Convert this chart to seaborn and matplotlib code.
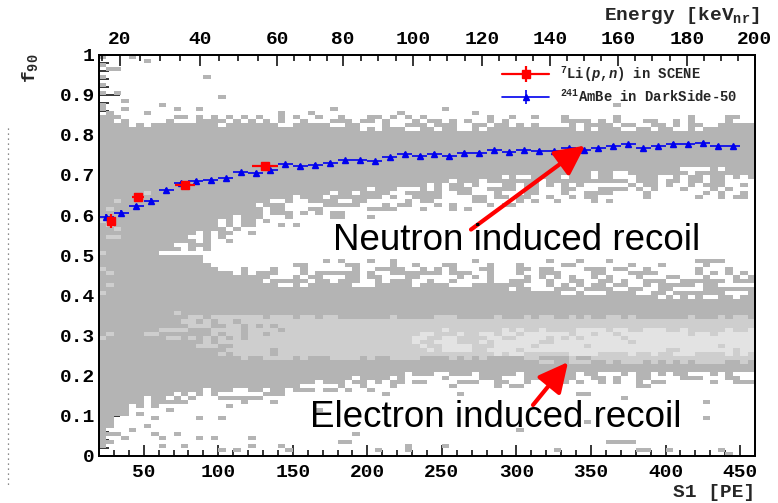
import numpy as np
import pandas as pd
import matplotlib
matplotlib.use("Agg")
import matplotlib.pyplot as plt
import seaborn as sns
from matplotlib.colors import ListedColormap
from matplotlib.lines import Line2D
from matplotlib.legend_handler import HandlerTuple
from matplotlib.ticker import MultipleLocator
from matplotlib.patches import ArrowStyle

# ---------------- data ----------------
ambe_s1 = [25, 35, 45, 55, 65, 75, 85, 95, 105, 115, 125, 135, 145, 155, 165,
           175, 185, 195, 205, 215, 225, 235, 245, 255, 265, 275, 285, 295, 305,
           315, 325, 335, 345, 355, 365, 375, 385, 395, 405, 415, 425, 435, 445]
ambe_f90 = [0.595, 0.605, 0.622, 0.636, 0.663, 0.680, 0.684, 0.688, 0.692, 0.707,
            0.705, 0.713, 0.727, 0.723, 0.726, 0.730, 0.736, 0.736, 0.734, 0.744,
            0.753, 0.748, 0.752, 0.746, 0.755, 0.755, 0.761, 0.756, 0.761, 0.760,
            0.759, 0.766, 0.763, 0.766, 0.773, 0.776, 0.766, 0.771, 0.777, 0.777,
            0.780, 0.773, 0.771]
ambe_yerr = [0.008, 0.007, 0.006, 0.006, 0.005, 0.005, 0.005, 0.004, 0.004, 0.004,
             0.004, 0.004, 0.004, 0.004, 0.004, 0.004, 0.004, 0.004, 0.004, 0.004,
             0.004, 0.004, 0.004, 0.004, 0.004, 0.004, 0.004, 0.004, 0.004, 0.004,
             0.004, 0.004, 0.004, 0.004, 0.004, 0.004, 0.004, 0.004, 0.004, 0.004,
             0.004, 0.004, 0.004]
ambe_xerr = 5.0

scene_s1 = [27.8, 46.2, 77.7, 131.3]
scene_f90 = [0.585, 0.644, 0.674, 0.723]
scene_xerr = [2.0, 4.0, 7.0, 9.0]
scene_yerr = [0.017, 0.012, 0.011, 0.010]

s1_ticks = [50, 100, 150, 200, 250, 300, 350, 400, 450]
f90_ticks = [0, 0.1, 0.2, 0.3, 0.4, 0.5, 0.6, 0.7, 0.8, 0.9, 1.0]
f90_tick_labels = ["0", "0.1", "0.2", "0.3", "0.4", "0.5", "0.6", "0.7", "0.8", "0.9", "1"]
energy_ticks = [20, 40, 60, 80, 100, 120, 140, 160, 180, 200]
# energy scale calibration: S1 position of each energy value on the top axis
energy_cal_e = [15, 20, 40, 60, 80, 100, 120, 140, 160, 180, 200]
energy_cal_s1 = [21.8, 34.1, 87.7, 139.4, 183.7, 230.6, 276.9, 322.5, 368.1, 414.4, 460.0]
energy_minor = [15, 25, 30, 35, 45, 50, 55, 65, 70, 75, 85, 90, 95, 105, 110, 115,
                125, 130, 135, 145, 150, 155, 165, 170, 175, 185, 190, 195]

# 2D histogram (S1 bins of 5 PE, f90 bins of 0.01): band edges read per S1 node
band_s1 =       [20,   25,   30,   35,   40,   50,   60,   70,   90,   110,  130,  150,  175,  200,  250,  300,  350,  400,  460]
nr_top =        [0.83, 0.83, 0.83, 0.83, 0.82, 0.82, 0.82, 0.82, 0.82, 0.82, 0.82, 0.82, 0.81, 0.81, 0.81, 0.81, 0.81, 0.81, 0.81]
nr_top_fringe = [0.87, 0.87, 0.87, 0.86, 0.86, 0.86, 0.86, 0.86, 0.86, 0.86, 0.86, 0.855, 0.855, 0.855, 0.855, 0.855, 0.85, 0.85, 0.85]
nr_bottom =     [0.50, 0.50, 0.50, 0.50, 0.50, 0.50, 0.50, 0.53, 0.56, 0.61, 0.63, 0.65, 0.66, 0.67, 0.69, 0.70, 0.71, 0.72, 0.72]
nr_bot_fringe = [0.50, 0.50, 0.50, 0.50, 0.50, 0.50, 0.50, 0.51, 0.50, 0.53, 0.56, 0.57, 0.58, 0.59, 0.61, 0.62, 0.63, 0.64, 0.64]
er_top_fringe = [0.50, 0.50, 0.50, 0.50, 0.50, 0.50, 0.50, 0.51, 0.50, 0.47, 0.47, 0.48, 0.49, 0.49, 0.49, 0.49, 0.49, 0.49, 0.49]
er_top =        [0.50, 0.50, 0.50, 0.50, 0.50, 0.50, 0.50, 0.50, 0.48, 0.45, 0.43, 0.42, 0.42, 0.42, 0.42, 0.41, 0.40, 0.39, 0.39]
er_bottom =     [0.03, 0.06, 0.09, 0.12, 0.15, 0.165, 0.165, 0.165, 0.165, 0.17, 0.17, 0.175, 0.19, 0.20, 0.21, 0.21, 0.21, 0.215, 0.215]
er_bot_fringe = [0.00, 0.02, 0.05, 0.08, 0.10, 0.12, 0.12, 0.13, 0.13, 0.13, 0.14, 0.15, 0.16, 0.16, 0.17, 0.17, 0.18, 0.18, 0.18]

light_s1 =      [45,   60,    80,    100,   110,  150,  250,   350,   460]
light_lo =      [0.31, 0.30,  0.29,  0.27,  0.255, 0.25, 0.25, 0.245, 0.245]
light_hi =      [0.34, 0.345, 0.345, 0.345, 0.34, 0.34, 0.335, 0.335, 0.335]
light_density = [0.0,  0.2,   0.3,   0.5,   0.85, 0.9,  0.95,  1.0,   1.0]

vlight_s1 =      [230,   260,   330,  460]
vlight_lo =      [0.275, 0.27,  0.26, 0.26]
vlight_hi =      [0.30,  0.305, 0.31, 0.31]
vlight_density = [0.2,   0.6,   0.85, 0.9]

# isolated cells outside the bands
sparse_s1 = [22, 22, 22, 22, 22, 22, 27, 32, 42, 52, 33, 38, 37, 62, 72, 87, 92, 103, 179, 254, 365,
             48, 67, 48, 58, 88, 102.5, 108, 138.5, 77, 102.5, 51, 55.5, 64.7, 72, 77, 87, 97, 122.6,
             102.5, 112.6, 122.6, 142.7, 148.6, 61, 41, 37, 31,
             213.8, 264, 193.7, 183.6, 228.4, 252.8, 168,
             340.6, 345, 369.5, 385, 409.7, 455.8, 429.8, 429.8, 366, 375, 328, 386, 440,
             138, 167, 193, 186, 123, 143.5, 206, 226.4, 253, 263, 302.4, 342.6, 348, 362.7,
             372.8, 371.5, 381.5, 426.5, 426.5, 437.7, 383, 403, 327]
sparse_f90 = [0.995, 0.975, 0.945, 0.92, 0.90, 0.875, 0.968, 0.968, 0.998, 0.99, 0.90, 0.888, 0.868,
              0.878, 0.862, 0.862, 0.948, 0.898, 0.862, 0.862, 0.872,
              0.135, 0.115, 0.107, 0.095, 0.095, 0.092, 0.125, 0.135, 0.135, 0.145, 0.075, 0.06,
              0.045, 0.05, 0.03, 0.045, 0.045, 0.045, 0.018, 0.018, 0.023, 0.023, 0.018, 0.03,
              0.062, 0.046, 0.058,
              0.157, 0.157, 0.055, 0.033, 0.018, 0.025, 0.12,
              0.185, 0.157, 0.185, 0.18, 0.205, 0.185, 0.135, 0.095, 0.037, 0.037, 0.018, 0.018, 0.006,
              0.135, 0.115, 0.057, 0.032, 0.045, 0.027, 0.011, 0.023, 0.027, 0.155, 0.065, 0.155,
              0.085, 0.036, 0.036, 0.14, 0.177, 0.135, 0.098, 0.011, 0.015, 0.015, 0.015]
light_cell_s1 = [32, 27, 29, 25, 31, 22, 25, 27, 22, 30, 50, 29, 33, 27, 22, 22, 22, 27]
light_cell_f90 = [0.638, 0.613, 0.571, 0.547, 0.547, 0.506, 0.456, 0.43, 0.40, 0.637, 0.658,
                  0.618, 0.568, 0.546, 0.585, 0.47, 0.30, 0.31]

# ---------------- build histogram cells ----------------
TEXTURE = ("39174620588134092756180437925618304729156038247190653827140965832174093561827049"
           "35617284093571862430957186240397518624309751862718293046571839205746182930")
L = len(TEXTURE)
x_edges = np.linspace(20, 460, 89)
y_edges = np.linspace(0, 1, 101)
xc = 0.5 * (x_edges[:-1] + x_edges[1:])
yc = 0.5 * (y_edges[:-1] + y_edges[1:])
level = np.zeros((len(xc), len(yc)), dtype=int)


def tex(i, j, off=0):
    return int(TEXTURE[(i * 53 + j * 29 + (i * j) % 17 + off) % L]) / 10.0


P_NEAR, P_SPAN = 0.72, 0.62
for i, x in enumerate(xc):
    nT = np.interp(x, band_s1, nr_top); nTf = np.interp(x, band_s1, nr_top_fringe)
    nB = np.interp(x, band_s1, nr_bottom); nBf = np.interp(x, band_s1, nr_bot_fringe)
    eT = np.interp(x, band_s1, er_top); eTf = np.interp(x, band_s1, er_top_fringe)
    eB = np.interp(x, band_s1, er_bottom); eBf = np.interp(x, band_s1, er_bot_fringe)
    lLo = np.interp(x, light_s1, light_lo); lHi = np.interp(x, light_s1, light_hi)
    lD = np.interp(x, light_s1, light_density) if x >= light_s1[0] else 0.0
    vLo = np.interp(x, vlight_s1, vlight_lo); vHi = np.interp(x, vlight_s1, vlight_hi)
    vD = np.interp(x, vlight_s1, vlight_density) if x >= vlight_s1[0] else 0.0
    for j, y in enumerate(yc):
        p = 0.0
        if eB <= y <= eT or nB <= y <= nT:
            p = 1.0
        else:
            if nT < y <= nTf:
                p = max(p, P_NEAR - P_SPAN * (y - nT) / (nTf - nT))
            if nBf <= y < nB:
                p = max(p, P_NEAR - P_SPAN * (nB - y) / max(nB - nBf, 1e-6))
            if eT < y <= eTf:
                p = max(p, P_NEAR - P_SPAN * (y - eT) / max(eTf - eT, 1e-6))
            if eBf <= y < eB:
                p = max(p, P_NEAR - P_SPAN * (eB - y) / max(eB - eBf, 1e-6))
        if p >= 1.0 or tex(i, j) < p:
            level[i, j] = 1
            if lLo <= y <= lHi and tex(i, j, 41) < lD:
                level[i, j] = 2
            elif (lLo - 0.012 <= y < lLo or lHi < y <= lHi + 0.012) and tex(i, j, 41) < 0.4 * lD:
                level[i, j] = 2
            if vLo <= y <= vHi and tex(i, j, 77) < vD:
                level[i, j] = 3
            elif (vLo - 0.012 <= y < vLo or vHi < y <= vHi + 0.012) and tex(i, j, 77) < 0.4 * vD:
                level[i, j] = 3

for s, f in zip(sparse_s1, sparse_f90):
    ii = min(int((s - 20) // 5), len(xc) - 1); jj = min(int(f // 0.01), 99)
    level[ii, jj] = max(level[ii, jj], 1)
for s, f in zip(light_cell_s1, light_cell_f90):
    ii = min(int((s - 20) // 5), len(xc) - 1); jj = min(int(f // 0.01), 99)
    level[ii, jj] = 2

I, J = np.nonzero(level)
cells = pd.DataFrame({"s1": xc[I], "f90": yc[J], "level": level[I, J]})

# ---------------- plotting ----------------
sns.set_theme(style="ticks")
plt.rcParams.update({
    "font.family": ["Liberation Mono", "DejaVu Sans"],
    "font.weight": "bold",
    "mathtext.fontset": "custom",
    "mathtext.rm": "Liberation Mono:bold",
    "mathtext.it": "Liberation Mono:italic:bold",
    "mathtext.bf": "Liberation Mono:bold",
    "axes.linewidth": 1.3,
    "axes.edgecolor": "black",
    "xtick.color": "black",
    "ytick.color": "black",
})

fig = plt.figure(figsize=(7.78, 5.03), dpi=100)
ax = fig.add_axes([99 / 778, 1 - 456 / 503, 656 / 778, 401.5 / 503])

MID, LIGHT, VLIGHT = "#b4b4b4", "#cecece", "#e3e3e3"
sns.histplot(data=cells, x="s1", y="f90", weights="level", bins=[x_edges, y_edges],
             cmap=ListedColormap([MID, MID, LIGHT, VLIGHT]), ax=ax, cbar=False)
ax.set_xlabel("")
ax.set_ylabel("")

ax.errorbar(ambe_s1, ambe_f90, xerr=ambe_xerr, yerr=ambe_yerr, fmt="^", color="#0000ee",
            ms=4.5, lw=1.2, capsize=0, zorder=4)
ax.errorbar(scene_s1, scene_f90, xerr=scene_xerr, yerr=scene_yerr, fmt="s", color="#ff0000",
            ms=6, lw=1.6, capsize=0, zorder=5)

ax.set_xlim(20, 460)
ax.set_ylim(0, 1)
ax.set_xticks(s1_ticks)
ax.set_xticklabels([str(v) for v in s1_ticks])
ax.xaxis.set_minor_locator(MultipleLocator(10))
ax.set_yticks(f90_ticks)
ax.set_yticklabels(f90_tick_labels)
ax.yaxis.set_minor_locator(MultipleLocator(0.02))
ax.tick_params(axis="x", which="major", direction="in", length=8, width=1.1, pad=6,
               labelsize=14, top=False)
ax.tick_params(axis="x", which="minor", direction="in", length=4, width=1.1, top=False)
ax.tick_params(axis="y", which="major", direction="in", length=15, width=1.1, pad=3,
               labelsize=14, right=False)
ax.tick_params(axis="y", which="minor", direction="in", length=7.5, width=1.1, right=False)

ax2 = ax.twiny()
ax2.set_xlim(20, 460)
ax2.set_xticks(np.interp(energy_ticks, energy_cal_e, energy_cal_s1))
ax2.set_xticklabels([str(e) for e in energy_ticks])
ax2.set_xticks(np.interp(energy_minor, energy_cal_e, energy_cal_s1), minor=True)
ax2.tick_params(which="major", direction="in", length=8, width=1.1, pad=5, labelsize=14)
ax2.tick_params(which="minor", direction="in", length=4, width=1.1)
for sp in ax2.spines.values():
    sp.set_linewidth(1.3)

# arrows and annotations
arrow_style = ArrowStyle("-|>", head_length=0.9, head_width=0.45)
ax.annotate("", xy=(346, 0.773), xytext=(269.5, 0.564),
            arrowprops=dict(arrowstyle=arrow_style, color="#ff0000", lw=3, mutation_scale=20,
                            shrinkA=0, shrinkB=0), zorder=6)
ax.annotate("", xy=(334.6, 0.234), xytext=(311.1, 0.127),
            arrowprops=dict(arrowstyle=arrow_style, color="#ff0000", lw=3, mutation_scale=20,
                            shrinkA=0, shrinkB=0), zorder=6)
ax.text(177, 0.514, "Neutron induced recoil", family="Liberation Sans", weight="normal",
        fontsize=26.5, color="black", ha="left", va="baseline", zorder=7)
ax.text(161.5, 0.072, "Electron induced recoil", family="Liberation Sans", weight="normal",
        fontsize=26.5, color="black", ha="left", va="baseline", zorder=7)

# legend
h_red = (Line2D([], [], color="#ff0000", lw=1.6, marker="s", ms=6),
         Line2D([], [], color="#ff0000", lw=0, marker="|", ms=12, mew=1.6))
h_blue = (Line2D([], [], color="#0000ee", lw=1.2, marker="^", ms=5),
          Line2D([], [], color="#0000ee", lw=0, marker="|", ms=10, mew=1.2))
ax.legend([h_red, h_blue],
          [r"$^{7}$Li($p$,$n$) in SCENE", r"$^{241}$AmBe in DarkSide-50"],
          handler_map={tuple: HandlerTuple(ndivide=1)},
          loc="upper left", bbox_to_anchor=(502 / 778, 1 - 64 / 503),
          bbox_transform=fig.transFigure, frameon=False, borderpad=0, borderaxespad=0,
          handlelength=3.4, handletextpad=0.8, labelspacing=0.35,
          prop={"family": "Liberation Mono", "weight": "bold", "size": 10})

# axis titles
fig.text(760 / 778, 1 - 20 / 503, r"Energy [keV$_{\rm nr}$]", ha="right", va="baseline",
         fontsize=14, weight="bold")
fig.text(755 / 778, 1 - 497 / 503, "S1 [PE]", ha="right", va="baseline",
         fontsize=14, weight="bold")
fig.text(30 / 778, 1 - 54 / 503, r"f$_{90}$", rotation=90, ha="center", va="top",
         fontsize=14, weight="bold")

# dotted guide line at the left edge of the screenshot
fig.add_artist(Line2D([8 / 778, 8 / 778], [1 - 128 / 503, 1 - 485 / 503],
                      transform=fig.transFigure, color="#666666", lw=0.9, ls=(0, (1, 3))))

fig.savefig("out.png", dpi=100)
